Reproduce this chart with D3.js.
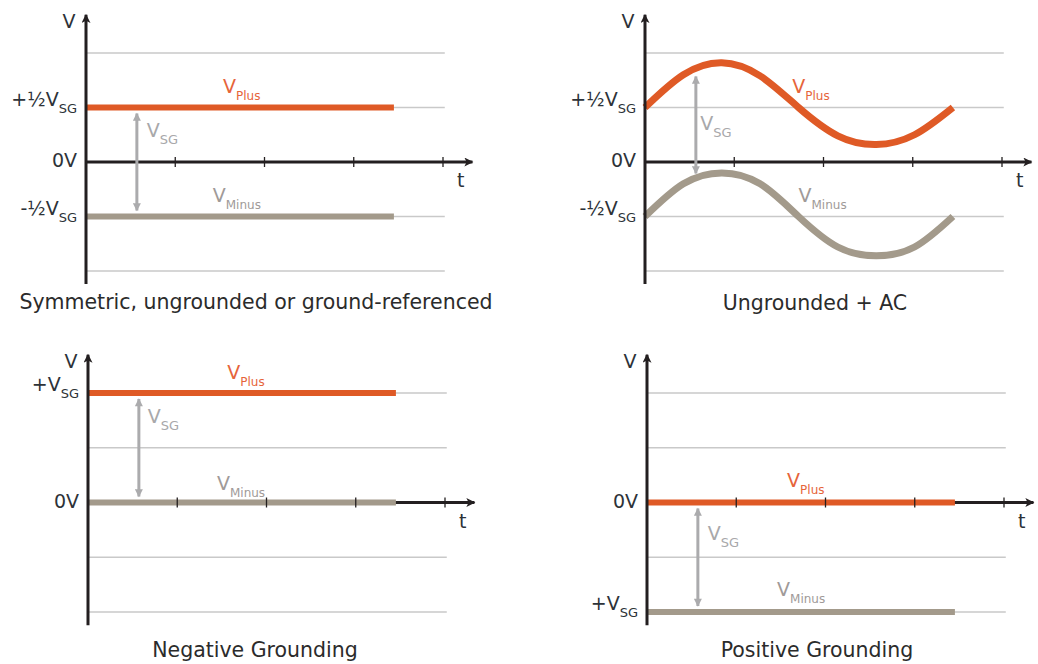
<!DOCTYPE html>
<html lang="en">
<head>
    <meta charset="UTF-8" />
    <title>Grounding modes</title>
    <script src="https://d3js.org/d3.v7.min.js"></script>
    <style>
        body { margin: 0; background: #fff; }
        text { font-family: "DejaVu Sans", sans-serif; }
    </style>
</head>
<body>
    <script>
        // Data
        var panelTitles = ["Symmetric, ungrounded or ground-referenced", "Ungrounded + AC", "Negative Grounding", "Positive Grounding"];
        var tFlat = [0, 3.45];
        var tWave = [0, 0.43, 0.86, 1.29, 1.72, 2.16, 2.59, 3.02, 3.45];
        var plusSymmetric = [0.5, 0.5];
        var minusSymmetric = [-0.5, -0.5];
        var plusAC = [0.5, 0.8, 0.91, 0.79, 0.5, 0.24, 0.16, 0.25, 0.5];
        var minusAC = [-0.5, -0.2, -0.1, -0.2, -0.5, -0.78, -0.86, -0.78, -0.5];
        var plusNegative = [1, 1];
        var minusNegative = [0, 0];
        var plusPositive = [0, 0];
        var minusPositive = [-1, -1];
        var gridLevels = [1, 0.5, 0, -0.5, -1];
        var timeTicks = [1, 2, 3, 4];
        var levelLabels = [
            [[0.5, "+½V", "SG"], [0, "0V", ""], [-0.5, "-½V", "SG"]],
            [[0.5, "+½V", "SG"], [0, "0V", ""], [-0.5, "-½V", "SG"]],
            [[1, "+V", "SG"], [0, "0V", ""]],
            [[0, "0V", ""], [-1, "+V", "SG"]]
        ];
        var vsgSpan = [[0.5, -0.5], [0.84, -0.16], [1, 0], [0, -1]];
        var vsgAt = 0.57;

        var w = 1038, h = 664;
        var orange = "#df5a26", taupe = "#a39a8b", arrowGrey = "#ababad", ink = "#231f20";

        var panels = [
            { x0: 86, top: 53, bottom: 271, t: tFlat, plus: plusSymmetric, minus: minusSymmetric,
              capX: 256, capY: 309, ann: { plus: [1.535, 0.633], minus: [1.42, -0.367], vsg: [0.68, 0.23] } },
            { x0: 645, top: 53, bottom: 271, t: tWave, plus: plusAC, minus: minusAC,
              capX: 815, capY: 310, ann: { plus: [1.65, 0.633], minus: [1.72, -0.367], vsg: [0.62, 0.294] } },
            { x0: 88, top: 393, bottom: 612, t: tFlat, plus: plusNegative, minus: minusNegative,
              capX: 255, capY: 657, ann: { plus: [1.56, 1.128], minus: [1.445, 0.114], vsg: [0.67, 0.726] } },
            { x0: 647, top: 393, bottom: 612, t: tFlat, plus: plusPositive, minus: minusPositive,
              capX: 817, capY: 657, ann: { plus: [1.57, 0.142], minus: [1.457, -0.854], vsg: [0.68, -0.342] } }
        ];

        var svg = d3.select("body")
            .append("svg")
            .attr("width", w)
            .attr("height", h);

        // Markers
        var defs = svg.append("defs");
        defs.append("marker")
            .attr("id", "axisHead")
            .attr("viewBox", "0 0 10 10")
            .attr("refX", 9).attr("refY", 5)
            .attr("markerUnits", "userSpaceOnUse")
            .attr("markerWidth", 11).attr("markerHeight", 9)
            .attr("orient", "auto")
            .append("path").attr("d", "M0,0 L10,5 L0,10 L2.5,5 Z").attr("fill", ink);
        defs.append("marker")
            .attr("id", "vsgHead")
            .attr("viewBox", "0 0 10 10")
            .attr("refX", 9).attr("refY", 5)
            .attr("markerUnits", "userSpaceOnUse")
            .attr("markerWidth", 9).attr("markerHeight", 8)
            .attr("orient", "auto-start-reverse")
            .append("path").attr("d", "M0,0 L10,5 L0,10 Z").attr("fill", arrowGrey);

        function subLabel(g, x, y, main, sub, size, subSize, color, anchor) {
            var txt = g.append("text")
                .attr("x", x).attr("y", y)
                .attr("text-anchor", anchor)
                .attr("fill", color)
                .style("font-size", size + "px");
            txt.append("tspan").text(main);
            if (sub) {
                txt.append("tspan")
                    .attr("dy", Math.round(size * 0.38))
                    .style("font-size", subSize + "px")
                    .text(sub);
            }
            return txt;
        }

        panels.forEach(function(p, i) {
            var g = svg.append("g");

            var xScale = d3.scaleLinear().domain([0, 4]).range([p.x0, p.x0 + 357]);
            var yScale = d3.scaleLinear().domain([-1, 1]).range([p.bottom, p.top]);

            // Gridlines
            g.selectAll(".grid")
                .data(gridLevels.filter(function(d) { return d !== 0; }))
                .enter().append("line")
                .attr("x1", xScale(0)).attr("x2", xScale(4.02))
                .attr("y1", function(d) { return yScale(d); })
                .attr("y2", function(d) { return yScale(d); })
                .attr("stroke", "#c9c9c9")
                .attr("stroke-width", 1.3);

            // Time axis
            g.append("line")
                .attr("x1", xScale(0)).attr("x2", xScale(4.33))
                .attr("y1", yScale(0)).attr("y2", yScale(0))
                .attr("stroke", ink)
                .attr("stroke-width", 3)
                .attr("marker-end", "url(#axisHead)");

            // Series
            var line = d3.line()
                .x(function(d) { return xScale(d[0]); })
                .y(function(d) { return yScale(d[1]); })
                .curve(p.t.length > 2 ? d3.curveNatural : d3.curveLinear);

            var wide = p.t.length > 2 ? 7 : 6;
            g.append("path")
                .datum(d3.zip(p.t, p.minus))
                .attr("d", line)
                .attr("fill", "none")
                .attr("stroke", taupe)
                .attr("stroke-width", wide);
            g.append("path")
                .datum(d3.zip(p.t, p.plus))
                .attr("d", line)
                .attr("fill", "none")
                .attr("stroke", orange)
                .attr("stroke-width", wide);

            // Ticks
            g.selectAll(".tick")
                .data(timeTicks)
                .enter().append("line")
                .attr("x1", function(d) { return xScale(d); })
                .attr("x2", function(d) { return xScale(d); })
                .attr("y1", yScale(0) - 5)
                .attr("y2", yScale(0) + 5)
                .attr("stroke", ink)
                .attr("stroke-width", 1.3);

            // Voltage axis
            g.append("line")
                .attr("x1", xScale(0)).attr("x2", xScale(0))
                .attr("y1", yScale(-1.12)).attr("y2", yScale(1.35))
                .attr("stroke", ink)
                .attr("stroke-width", 3)
                .attr("marker-end", "url(#axisHead)");

            g.append("text")
                .attr("x", xScale(0) - 17).attr("y", yScale(1.35) + 13)
                .attr("text-anchor", "middle")
                .attr("fill", "#2d3238")
                .style("font-size", "19px")
                .text("V");
            g.append("text")
                .attr("x", xScale(4.2)).attr("y", yScale(0) + 25)
                .attr("text-anchor", "middle")
                .attr("fill", "#2d3238")
                .style("font-size", "19px")
                .text("t");

            // Level labels
            levelLabels[i].forEach(function(l) {
                var y = yScale(l[0]);
                if (l[2]) {
                    subLabel(g, xScale(0) - 9, y - 2, l[1], l[2], 19, 13, "#2d3238", "end");
                } else {
                    subLabel(g, xScale(0) - 9, y + 5, l[1], "", 19, 13, "#2d3238", "end");
                }
            });

            // V_SG arrow
            g.append("line")
                .attr("x1", xScale(vsgAt)).attr("x2", xScale(vsgAt))
                .attr("y1", yScale(vsgSpan[i][0]) + 6)
                .attr("y2", yScale(vsgSpan[i][1]) - 6)
                .attr("stroke", arrowGrey)
                .attr("stroke-width", 3)
                .attr("marker-start", "url(#vsgHead)")
                .attr("marker-end", "url(#vsgHead)");

            // Annotations
            subLabel(g, xScale(p.ann.vsg[0]), yScale(p.ann.vsg[1]), "V", "SG", 19, 13, "#a8a8aa", "start");
            subLabel(g, xScale(p.ann.plus[0]), yScale(p.ann.plus[1]), "V", "Plus", 19, 12, "#e6643a", "start");
            subLabel(g, xScale(p.ann.minus[0]), yScale(p.ann.minus[1]), "V", "Minus", 19, 12, "#a09a98", "start");

            // Caption
            g.append("text")
                .attr("x", p.capX).attr("y", p.capY)
                .attr("text-anchor", "middle")
                .attr("fill", "#2b2b2b")
                .style("font-size", "20.5px")
                .text(panelTitles[i]);
        });
    </script>
</body>
</html>
